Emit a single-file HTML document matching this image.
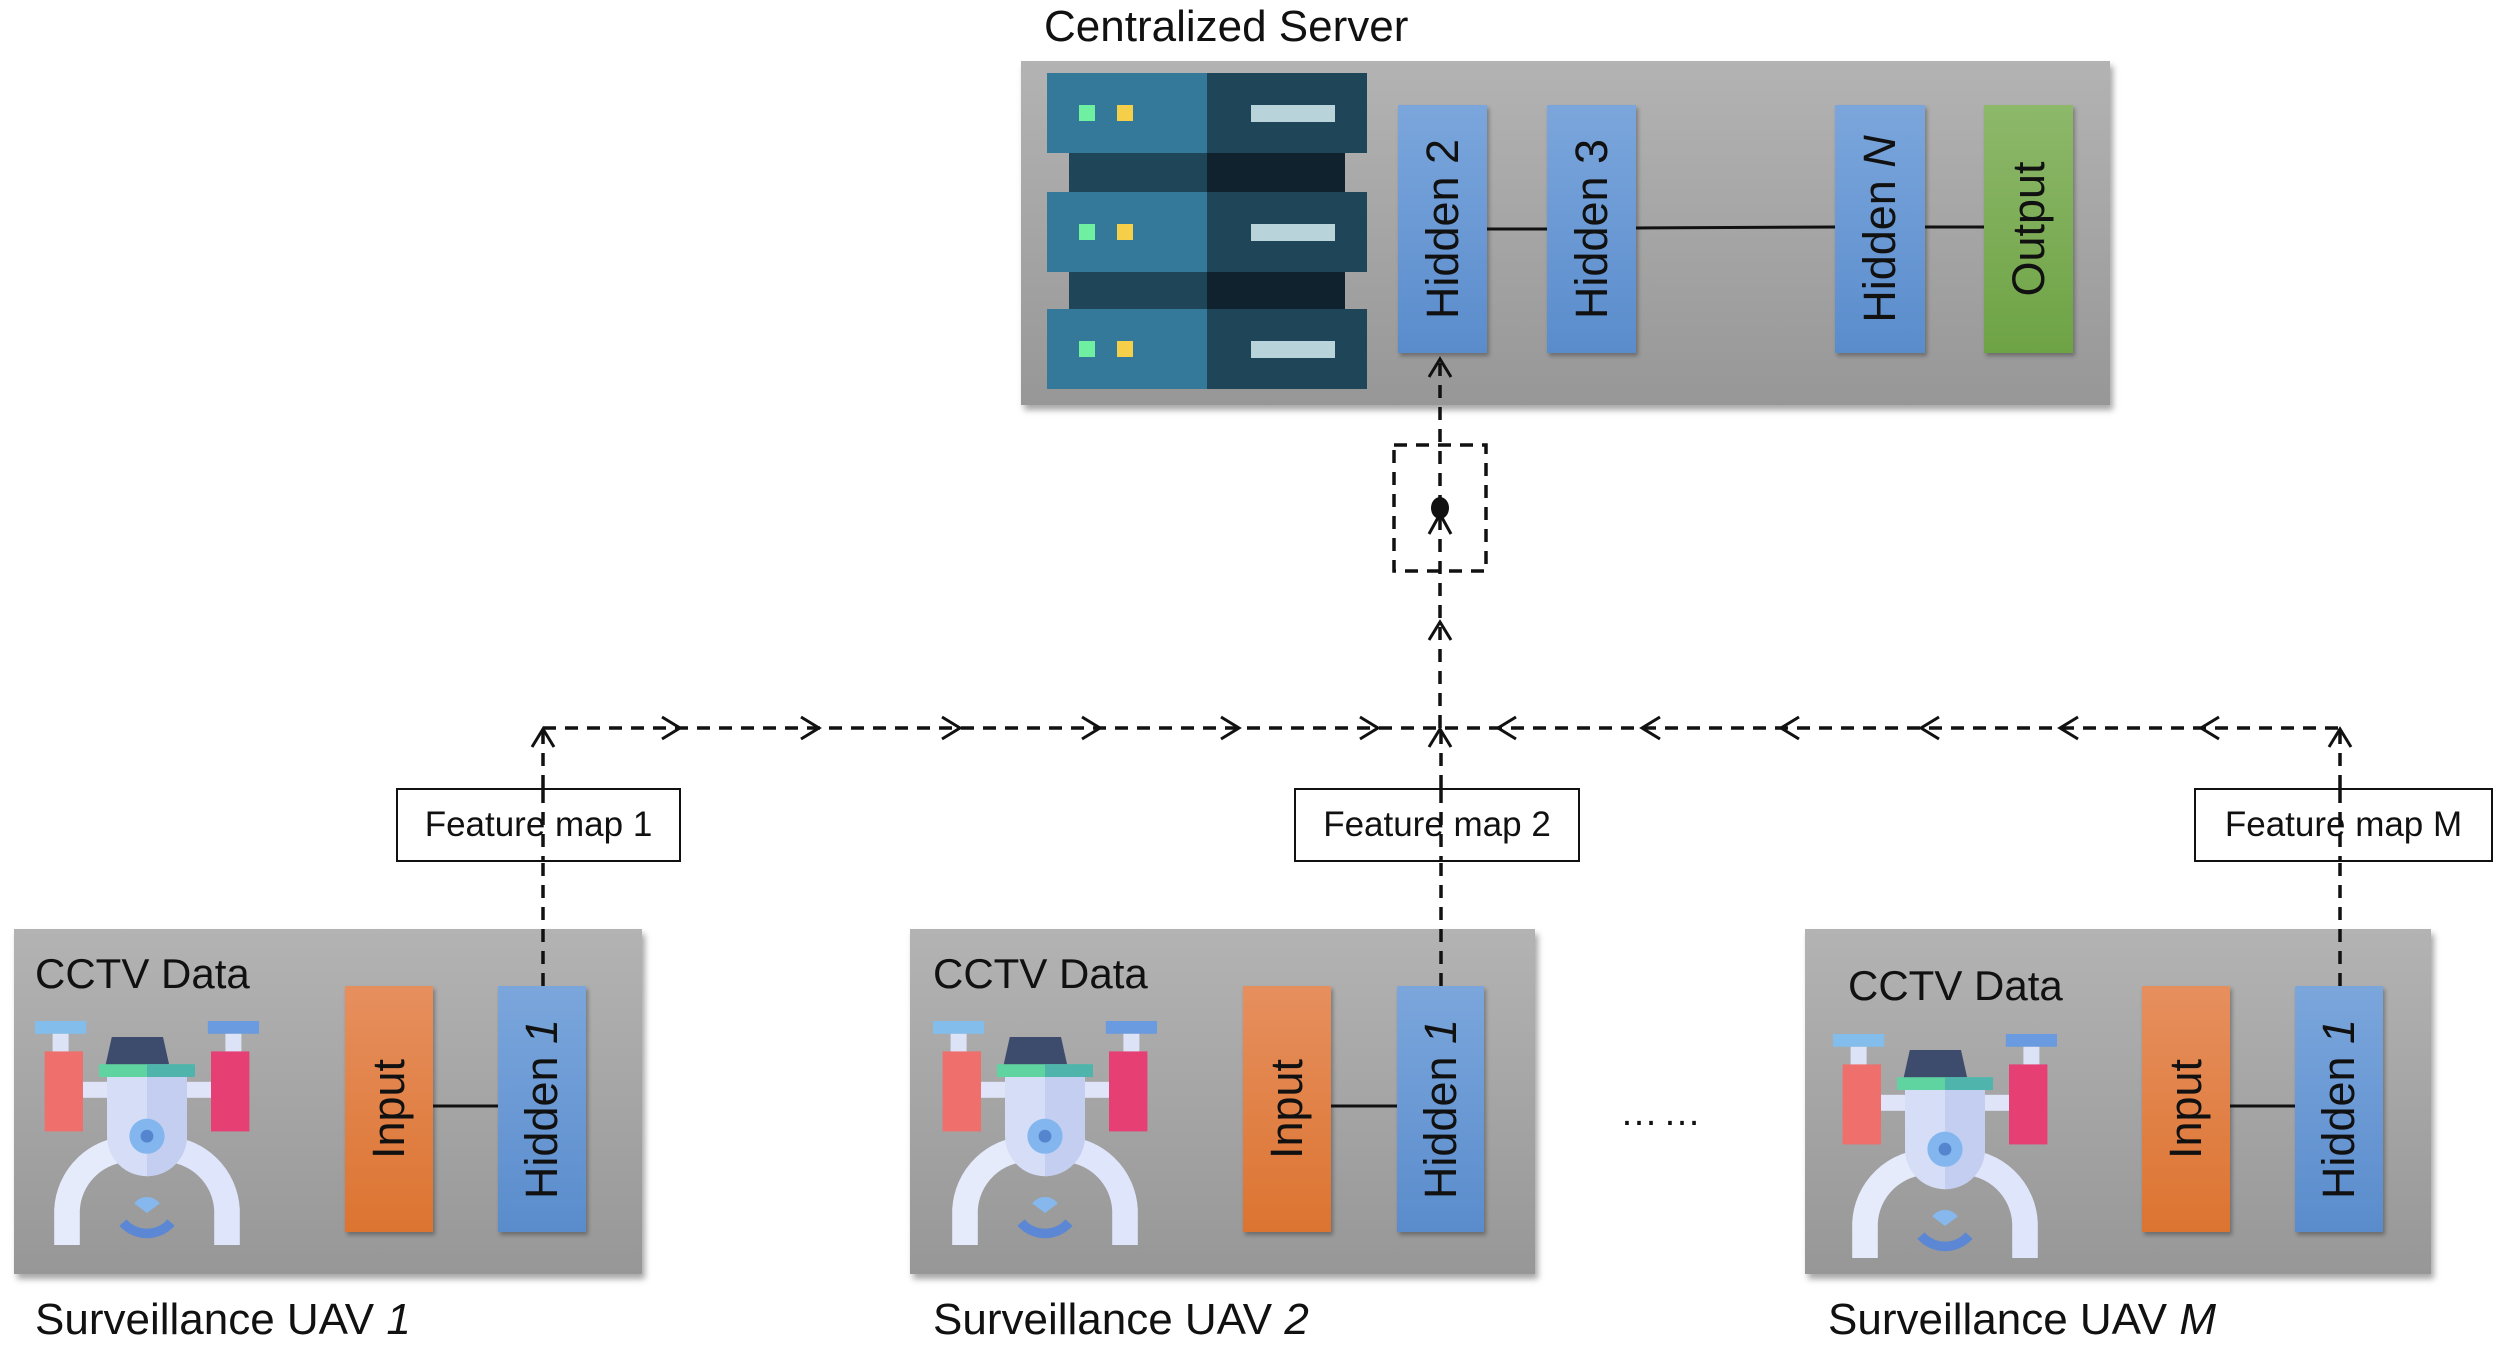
<!DOCTYPE html>
<html><head><meta charset="utf-8"><style>
body{margin:0;width:2502px;height:1346px;background:#fff;position:relative;overflow:hidden;font-family:"Liberation Sans",sans-serif;color:#111}
.abs{position:absolute}
.gbox{position:absolute;background:linear-gradient(#b3b3b3,#979797);box-shadow:3px 5px 6px rgba(0,0,0,0.35)}
.bar{position:absolute;box-shadow:2px 3px 4px rgba(0,0,0,0.3)}
.blue{background:linear-gradient(#7ba6dc,#5a8ccc)}
.orange{background:linear-gradient(#e68f5e,#dc7431)}
.green{background:linear-gradient(#8db86a,#6ea345)}
.lbl{position:absolute;left:50%;top:50%;transform:translate(-50%,-50%) rotate(-90deg);white-space:nowrap;font-size:45px}
.t{position:absolute;white-space:nowrap;font-size:44px}
.fm{position:absolute;border:2px solid #111;background:#fff;font-size:35px;display:flex;align-items:center;justify-content:center;box-sizing:border-box}
</style></head><body>
<div class="t" style="left:1044px;top:2px">Centralized Server</div>
<div class="gbox" style="left:1021px;top:61px;width:1089px;height:344px"></div>

<svg class="abs" style="left:1047px;top:73px" width="320" height="316" viewBox="0 0 320 316">
 <rect x="22" y="80" width="276" height="40" fill="#1f4558"/><rect x="160" y="80" width="138" height="40" fill="#10222e"/>
 <rect x="22" y="198" width="276" height="40" fill="#1f4558"/><rect x="160" y="198" width="138" height="40" fill="#10222e"/>
 <g id="u"><rect x="0" y="0" width="160" height="80" fill="#35799a"/><rect x="160" y="0" width="160" height="80" fill="#1f4558"/>
 <rect x="32" y="32" width="16" height="16" fill="#6ef0a0"/><rect x="70" y="32" width="16" height="16" fill="#f5cf4a"/>
 <rect x="204" y="32" width="84" height="17" fill="#b9d3da"/></g>
 <use href="#u" y="119"/><use href="#u" y="236"/>
</svg>

<div class="bar blue" style="left:1398px;top:105px;width:89px;height:248px"><div class="lbl">Hidden 2</div></div>
<div class="bar blue" style="left:1547px;top:105px;width:89px;height:248px"><div class="lbl">Hidden 3</div></div>
<div class="bar blue" style="left:1835px;top:105px;width:90px;height:248px"><div class="lbl">Hidden <i>N</i></div></div>
<div class="bar green" style="left:1984px;top:105px;width:89px;height:248px"><div class="lbl">Output</div></div>

<div class="gbox" style="left:14px;top:929px;width:628px;height:345px"></div>
<div class="gbox" style="left:910px;top:929px;width:625px;height:345px"></div>
<div class="gbox" style="left:1805px;top:929px;width:626px;height:345px"></div>
<div class="t" style="left:35px;top:950px;font-size:42px">CCTV Data</div>
<div class="t" style="left:933px;top:950px;font-size:42px">CCTV Data</div>
<div class="t" style="left:1848px;top:962px;font-size:42px">CCTV Data</div>

<svg width="0" height="0" style="position:absolute"><defs>
<g id="drone">
 <rect x="0" y="0" width="32" height="8" fill="#82bdec"/><rect x="108" y="0" width="32" height="8" fill="#6a9be0"/>
 <rect x="11" y="8" width="10" height="12" fill="#dde3f6"/><rect x="119" y="8" width="10" height="12" fill="#dde3f6"/>
 <rect x="6" y="19" width="24" height="50" fill="#ee6f6c"/><rect x="110" y="19" width="24" height="50" fill="#e63f74"/>
 <rect x="30" y="38" width="80" height="10" fill="#dfe4f8"/>
 <path d="M48 10 H80 L84 28 H44 Z" fill="#3d4c6c"/>
 <rect x="40" y="27" width="60" height="8" fill="#5fd3a0"/><rect x="70" y="27" width="30" height="8" fill="#4fb5ac"/>
 <path d="M20 140 V118 A40 40 0 0 1 60 80" stroke="#e6ebfb" stroke-width="16" fill="none"/>
 <path d="M120 140 V118 A40 40 0 0 0 80 80" stroke="#dfe5fa" stroke-width="16" fill="none"/>
 <path d="M45 35 H95 V72 A25 25 0 0 1 45 72 Z" fill="#d5ddf7"/>
 <path d="M70 35 H95 V72 A25 25 0 0 1 70 97 Z" fill="#c3cef0"/>
 <circle cx="70" cy="72" r="11" fill="#83b6ee"/><circle cx="70" cy="72" r="4" fill="#5685cf"/>
 <path d="M62 114 A10 10 0 0 1 78 114 L70 120 Z" fill="#86b8ee"/>
 <path d="M55 126 A20 20 0 0 0 85 126" stroke="#5b87d4" stroke-width="6" fill="none"/>
</g></defs></svg>
<svg class="abs" style="left:35px;top:1021px" width="224" height="224" viewBox="0 0 140 140"><use href="#drone"/></svg>
<svg class="abs" style="left:933px;top:1021px" width="224" height="224" viewBox="0 0 140 140"><use href="#drone"/></svg>
<svg class="abs" style="left:1833px;top:1034px" width="224" height="224" viewBox="0 0 140 140"><use href="#drone"/></svg>

<div class="bar orange" style="left:345px;top:986px;width:88px;height:246px"><div class="lbl">Input</div></div>
<div class="bar blue" style="left:498px;top:986px;width:88px;height:246px"><div class="lbl">Hidden <i>1</i></div></div>
<div class="bar orange" style="left:1243px;top:986px;width:88px;height:246px"><div class="lbl">Input</div></div>
<div class="bar blue" style="left:1397px;top:986px;width:87px;height:246px"><div class="lbl">Hidden <i>1</i></div></div>
<div class="bar orange" style="left:2142px;top:986px;width:88px;height:246px"><div class="lbl">Input</div></div>
<div class="bar blue" style="left:2295px;top:986px;width:88px;height:246px"><div class="lbl">Hidden <i>1</i></div></div>

<div class="t" style="left:35px;top:1295px">Surveillance UAV <i>1</i></div>
<div class="t" style="left:933px;top:1295px">Surveillance UAV <i>2</i></div>
<div class="t" style="left:1828px;top:1295px">Surveillance UAV <i>M</i></div>
<div class="t" style="left:1620px;top:1092px;font-size:38px;letter-spacing:5px">……</div>

<svg class="abs" style="left:0;top:0" width="2502" height="1346">
 <g stroke="#111" stroke-width="3" fill="none">
  <line x1="1487" y1="229" x2="1547" y2="229"/><line x1="1636" y1="228" x2="1835" y2="227"/><line x1="1925" y1="227" x2="1984" y2="227"/>
  <line x1="433" y1="1106" x2="498" y2="1106"/><line x1="1331" y1="1106" x2="1397" y2="1106"/><line x1="2230" y1="1106" x2="2295" y2="1106"/>
 </g>
 <g stroke="#111" stroke-width="3.5" fill="none" stroke-dasharray="13 9">
  <line x1="543" y1="728" x2="2338" y2="728"/>
  <line x1="1440" y1="728" x2="1440" y2="356"/>
  <line x1="543" y1="986" x2="543" y2="730"/>
  <line x1="1441" y1="986" x2="1441" y2="730"/>
  <line x1="2340" y1="986" x2="2340" y2="730"/>
  <rect x="1394" y="445" width="92" height="126"/>
 </g>
 <g stroke="#111" stroke-width="3" fill="none">
  <path d="M662 717 L680 728 L662 739"/><path d="M801 717 L819 728 L801 739"/><path d="M942 717 L960 728 L942 739"/>
  <path d="M1082 717 L1100 728 L1082 739"/><path d="M1221 717 L1239 728 L1221 739"/><path d="M1360 717 L1378 728 L1360 739"/>
  <path d="M1516 717 L1498 728 L1516 739"/><path d="M1660 717 L1642 728 L1660 739"/><path d="M1799 717 L1781 728 L1799 739"/>
  <path d="M1939 717 L1921 728 L1939 739"/><path d="M2078 717 L2060 728 L2078 739"/><path d="M2219 717 L2201 728 L2219 739"/>
  <path d="M532 747 L543 729 L554 747"/><path d="M1429 747 L1440 729 L1451 747"/><path d="M2329 747 L2340 729 L2351 747"/>
  <path d="M1429 640 L1440 622 L1451 640"/><path d="M1429 377 L1440 359 L1451 377"/><path d="M1429 534 L1440 514 L1451 534"/>
 </g>
 <ellipse cx="1440" cy="508" rx="9" ry="11" fill="#111"/>
</svg>

<div class="fm" style="left:396px;top:788px;width:285px;height:74px">Feature map 1</div>
<div class="fm" style="left:1294px;top:788px;width:286px;height:74px">Feature map 2</div>
<div class="fm" style="left:2194px;top:788px;width:299px;height:74px">Feature map M</div>
<svg class="abs" style="left:0;top:0" width="2502" height="1346"><g stroke="#111" stroke-width="3.5" stroke-dasharray="13 9">
 <line x1="543" y1="790" x2="543" y2="860"/><line x1="1441" y1="790" x2="1441" y2="860"/><line x1="2340" y1="790" x2="2340" y2="860"/>
</g></svg>
</body></html>
